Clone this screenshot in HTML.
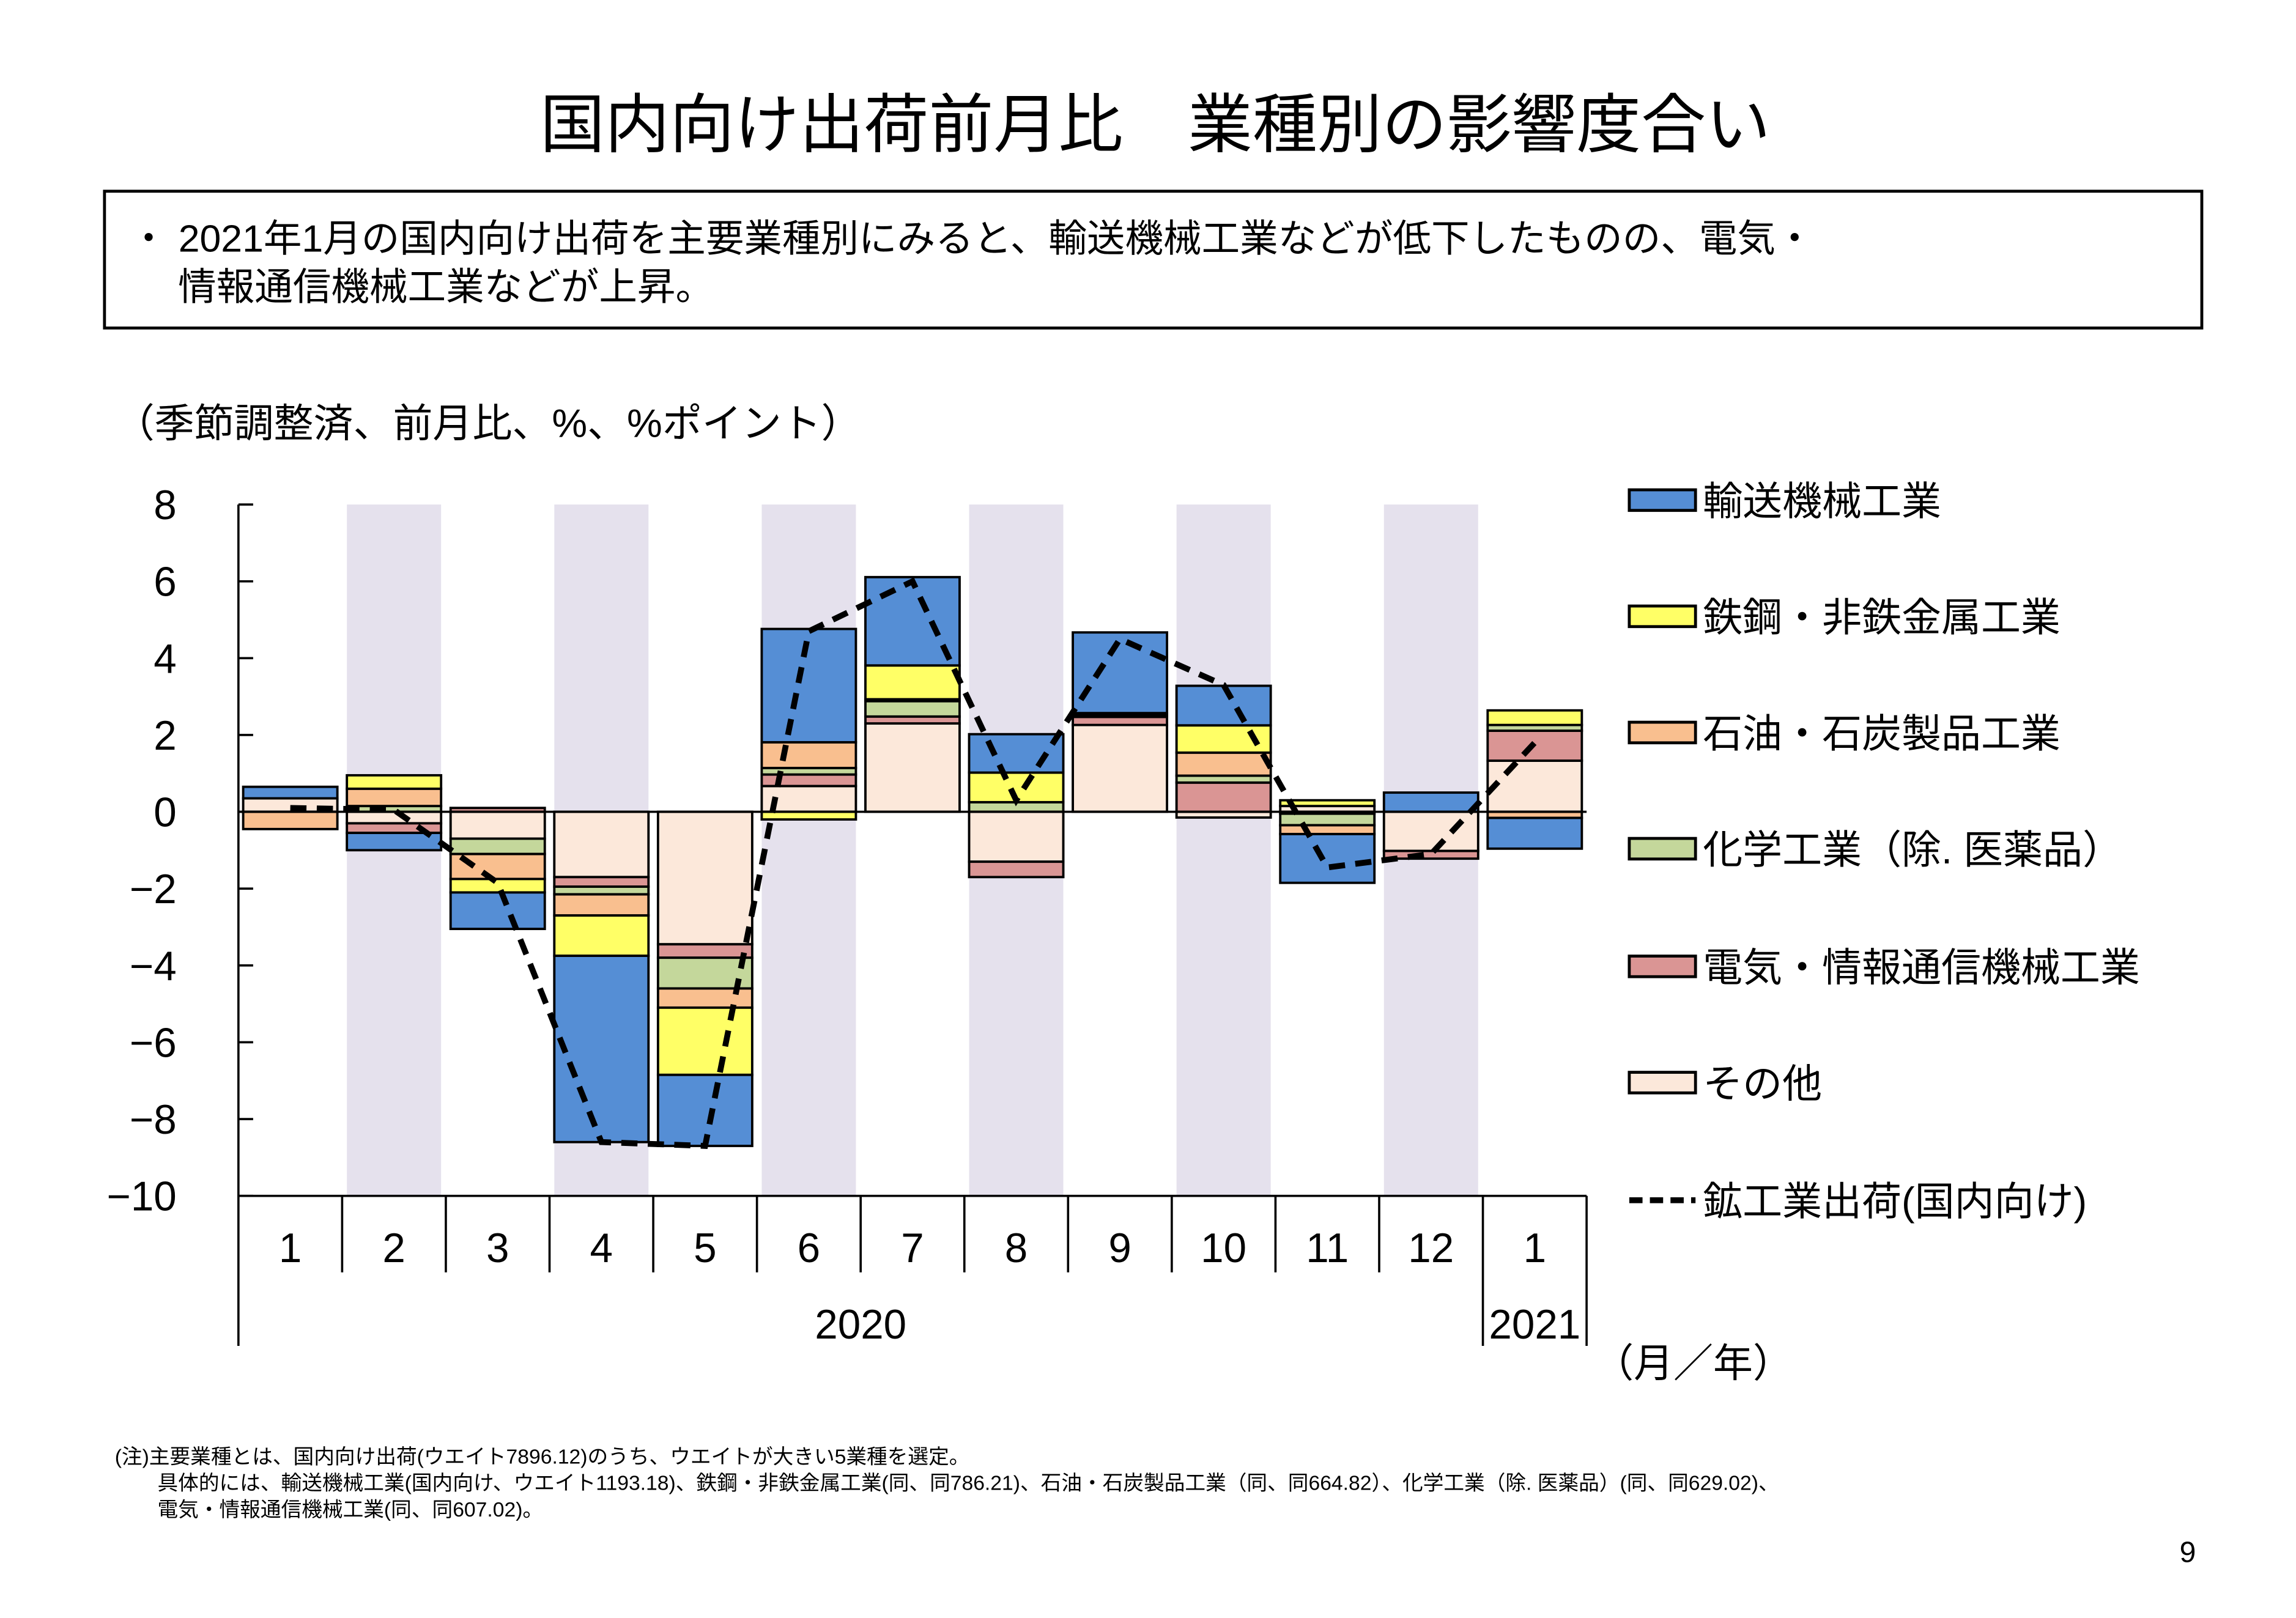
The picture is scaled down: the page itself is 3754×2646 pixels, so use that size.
<!DOCTYPE html>
<html><head><meta charset="utf-8"><style>
html,body{margin:0;padding:0;background:#fff}
svg{display:block}
text{font-family:"Liberation Sans","Noto Sans CJK JP",sans-serif;fill:#000}
</style></head><body>
<svg id="chart" xmlns="http://www.w3.org/2000/svg" width="3754" height="2646" viewBox="0 0 1560 1100" preserveAspectRatio="none">
<text x="785" y="100" font-size="44" text-anchor="middle">国内向け出荷前月比　業種別の影響度合い</text>
<rect x="71" y="130" width="1425" height="93" fill="none" stroke="#000" stroke-width="2"/>
<text x="88" y="171" font-size="26">・ 2021年1月の国内向け出荷を主要業種別にみると、輸送機械工業などが低下したものの、電気・</text>
<text x="121" y="204" font-size="26">情報通信機械工業などが上昇。</text>
<text x="78" y="297" font-size="27">（季節調整済、前月比、%、%ポイント）</text>
<g id="bands"></g><g id="bars"></g><g id="axes"></g><g id="line"></g><g id="legend"></g>
<text x="1083" y="936" font-size="27">（月／年）</text>
<text x="78" y="995" font-size="14">(注)主要業種とは、国内向け出荷(ウエイト7896.12)のうち、ウエイトが大きい5業種を選定。</text>
<text x="107" y="1013" font-size="14">具体的には、輸送機械工業(国内向け、ウエイト1193.18)、鉄鋼・非鉄金属工業(同、同786.21)、石油・石炭製品工業（同、同664.82）、化学工業（除. 医薬品）(同、同629.02)、</text>
<text x="107" y="1031" font-size="14">電気・情報通信機械工業(同、同607.02)。</text>
<text x="1492" y="1062" font-size="20" text-anchor="end">9</text>
</svg>
<script>
const categories=["1","2","3","4","5","6","7","8","9","10","11","12","1"];
const yearLabels=["2020","2021"];
const seriesNames=["その他","電気・情報通信機械工業","化学工業（除. 医薬品）","石油・石炭製品工業","鉄鋼・非鉄金属工業","輸送機械工業"];
const other=[0.35,-0.3,-0.7,-1.7,-3.45,0.67,2.3,-1.3,2.26,-0.15,0.15,-1.02,1.33];
const electric=[0,-0.25,0.1,-0.25,-0.35,0.3,0.18,-0.4,0.21,0.76,-0.05,-0.2,0.78];
const chemical=[0,0.15,-0.4,-0.2,-0.8,0.17,0.4,0.25,0,0.18,-0.3,0,0.15];
const petroleum=[-0.45,0.45,-0.65,-0.55,-0.5,0.67,0.05,0,0.05,0.6,-0.23,0,-0.16];
const steel=[0,0.35,-0.35,-1.05,-1.75,-0.2,0.88,0.77,0.05,0.71,0.15,0,0.38];
const transport=[0.3,-0.45,-0.95,-4.85,-1.85,2.95,2.3,1.0,2.1,1.03,-1.27,0.5,-0.8];
const totalLine=[0.1,0.05,-1.85,-8.6,-8.7,4.7,6.0,0.3,4.5,3.3,-1.45,-1.1,1.8];
const yTicks=[8,6,4,2,0,-2,-4,-6,-8,-10];
const NS="http://www.w3.org/2000/svg";
const colors=["#fce8da","#da9594","#c4d79b","#f9bf8f","#ffff66","#558ed5"];
const X0=162,X1=1078,YT=343,YB=813,yMin=-10,yMax=8;
const cw=(X1-X0)/categories.length;
const y=v=>YT+(yMax-v)*(YB-YT)/(yMax-yMin);
const xc=i=>X0+cw*(i+0.5);
function mk(tag,attrs,parent){const e=document.createElementNS(NS,tag);for(const k in attrs)e.setAttribute(k,attrs[k]);document.getElementById(parent).appendChild(e);return e;}
// bands
categories.forEach((c,i)=>{if(i%2===1&&i<12){const r=mk('rect',{x:xc(i)-32,y:YT,width:64,height:YB-YT,fill:'#e5e1ed'},'bands');

}});
// bars
const series=[other,electric,chemical,petroleum,steel,transport];
categories.forEach((c,i)=>{let pos=0,neg=0;series.forEach((s,k)=>{const v=s[i];if(!v)return;let a,b;if(v>0){a=pos;b=pos+v;pos=b;}else{a=neg;b=neg+v;neg=b;}
const r=mk('rect',{x:xc(i)-32,y:y(Math.max(a,b)),width:64,height:Math.abs(y(a)-y(b)),fill:colors[k],stroke:'#000','stroke-width':1.6},'bars');

});});
// axes
mk('line',{x1:X0,y1:YT,x2:X0,y2:915,stroke:'#000','stroke-width':1.5},'axes');
mk('line',{x1:X0,y1:y(0),x2:X1,y2:y(0),stroke:'#000','stroke-width':1.5},'axes');
mk('line',{x1:X0,y1:YB,x2:X1,y2:YB,stroke:'#000','stroke-width':1.5},'axes');
yTicks.forEach(t=>{mk('line',{x1:X0,y1:y(t),x2:X0+10,y2:y(t),stroke:'#000','stroke-width':1.5},'axes');
const tx=mk('text',{x:120,y:y(t)+10,'font-size':28,'text-anchor':'end'},'axes');tx.textContent=(t<0?'−':'')+Math.abs(t);

});
categories.forEach((c,i)=>{const xb=X0+cw*(i+1);mk('line',{x1:xb,y1:YB,x2:xb,y2:i===11?915:(i===12?915:865),stroke:'#000','stroke-width':1.5},'axes');
const tx=mk('text',{x:xc(i),y:858,'font-size':28,'text-anchor':'middle'},'axes');tx.textContent=c;

});
const y1t=mk('text',{x:(X0+X0+cw*12)/2,y:910,'font-size':28,'text-anchor':'middle'},'axes');y1t.textContent=yearLabels[0];


const y2t=mk('text',{x:xc(12),y:910,'font-size':28,'text-anchor':'middle'},'axes');y2t.textContent=yearLabels[1];


// line
const pl=mk('polyline',{points:totalLine.map((v,i)=>xc(i)+','+y(v)).join(' '),fill:'none',stroke:'#000','stroke-width':4,'stroke-dasharray':'11,7'},'line');


// legend
const ly=[340,419,498,577,657,736];
[5,4,3,2,1,0].forEach((k,j)=>{const r=mk('rect',{x:1107,y:ly[j]-7,width:45,height:14,fill:colors[k],stroke:'#000','stroke-width':2},'legend');


const t=mk('text',{x:1157,y:ly[j]+10,'font-size':27},'legend');t.textContent=seriesNames[k];

});
const ll=mk('line',{x1:1107,y1:816,x2:1152,y2:816,stroke:'#000','stroke-width':4,'stroke-dasharray':'9,5'},'legend');


const lt=mk('text',{x:1157,y:826,'font-size':27},'legend');lt.textContent='鉱工業出荷(国内向け)';


</script>
</body></html>
